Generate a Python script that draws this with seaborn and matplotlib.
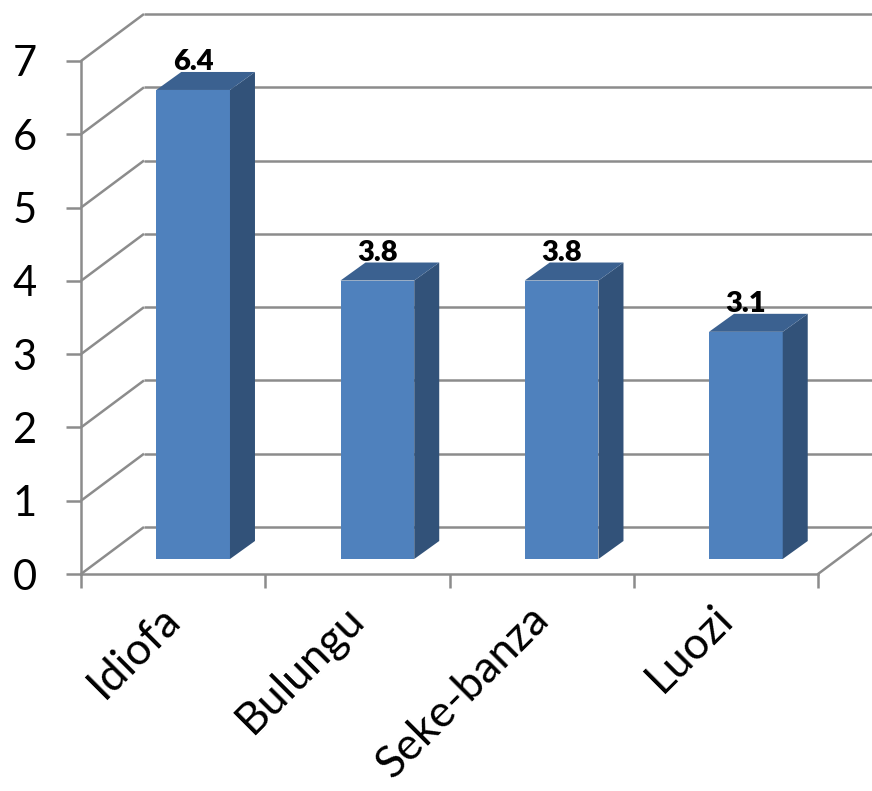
import matplotlib
matplotlib.use("Agg")
import matplotlib.pyplot as plt
import matplotlib.transforms as mtransforms
from matplotlib.patches import Polygon
import seaborn as sns
import pandas as pd

# ---- data ----
categories = ["Idiofa", "Bulungu", "Seke-banza", "Luozi"]
values = [6.4, 3.8, 3.8, 3.1]
value_labels = ["6.4", "3.8", "3.8", "3.1"]
y_ticks = [0, 1, 2, 3, 4, 5, 6, 7]

sns.set_theme(style="white")
plt.rcParams['font.family'] = ['Lato', 'DejaVu Sans']

W, H = 872, 791
fig = plt.figure(figsize=(W / 100, H / 100), dpi=100)
fig.patch.set_facecolor('white')

# pixel geometry of the front plane
ax_left, ax_right = 81, 818
ax_bot, ax_top = 574, 61
ax = fig.add_axes([ax_left / W, 1 - ax_bot / H, (ax_right - ax_left) / W, (ax_bot - ax_top) / H])
n = len(categories)
ax.set_xlim(-0.5, n - 0.5)
ax.set_ylim(0, max(y_ticks))
ax.patch.set_alpha(0)

px_x = n / (ax_right - ax_left)
px_y = max(y_ticks) / (ax_bot - ax_top)
back_dx, back_dy = 63 * px_x, 47 * px_y

grid_c = '#8C8C8C'
lw = 1.8
for v in y_ticks:
    ax.plot([-0.5, -0.5 + back_dx], [v, v + back_dy], color=grid_c, lw=lw, clip_on=False,
            solid_capstyle='butt')
    ax.plot([-0.5 + back_dx, n - 0.5 + back_dx], [v + back_dy, v + back_dy], color=grid_c, lw=lw,
            clip_on=False, solid_capstyle='butt')
ax.plot([n - 0.5, n - 0.5 + back_dx], [0, back_dy], color=grid_c, lw=lw, clip_on=False)

for s in ['top', 'right']:
    ax.spines[s].set_visible(False)
for s in ['left', 'bottom']:
    ax.spines[s].set_color(grid_c)
    ax.spines[s].set_linewidth(lw)

ax.set_yticks(y_ticks)
ax.set_yticklabels([str(t) for t in y_ticks])
ax.tick_params(axis='y', direction='out', length=15 * 0.72, width=lw, color=grid_c,
               labelsize=30, pad=21, labelcolor='black', left=True)
ax.set_xticks(range(n))
ax.set_xticklabels(categories, rotation=45, ha='right', va='top', rotation_mode='anchor')
ax.set_xticks([i - 0.5 for i in range(n + 1)], minor=True)
ax.tick_params(axis='x', which='major', length=0, labelsize=32, pad=17, labelcolor='black')
ax.tick_params(axis='x', which='minor', direction='out', length=10, width=lw, color=grid_c, bottom=True)
for lab in ax.get_xticklabels():
    lab.set_transform(lab.get_transform() + mtransforms.ScaledTranslation(-14 / 100, 0, fig.dpi_scale_trans))

# ---- bars (seaborn), drawn on an axes shifted into the depth ----
bar_off_x, bar_off_y = 20, 15
axb = fig.add_axes([(ax_left + bar_off_x) / W, 1 - (ax_bot - bar_off_y) / H,
                    (ax_right - ax_left) / W, (ax_bot - ax_top) / H])
df = pd.DataFrame({'Region': categories, 'Value': values})
front_c, side_c, top_c = '#4F81BD', '#325279', '#3B6190'
sns.barplot(data=df, x='Region', y='Value', color=front_c, saturation=1, width=0.4,
            ax=axb, linewidth=0)
axb.set_xlim(-0.5, n - 0.5)
axb.set_ylim(0, max(y_ticks))
axb.axis('off')
axb.patch.set_alpha(0)

depth_dx, depth_dy = 25 * px_x, 18 * px_y
bars = list(axb.patches)
lab_tr = mtransforms.offset_copy(axb.transData, fig=fig, x=0, y=20, units='dots')
for p, lab in zip(bars, value_labels):
    x0, y0, w, h = p.get_x(), p.get_y(), p.get_width(), p.get_height()
    side = Polygon([(x0 + w, y0), (x0 + w + depth_dx, y0 + depth_dy),
                    (x0 + w + depth_dx, y0 + h + depth_dy), (x0 + w, y0 + h)],
                   closed=True, fc=side_c, ec='none', clip_on=False)
    top = Polygon([(x0, y0 + h), (x0 + depth_dx, y0 + h + depth_dy),
                   (x0 + w + depth_dx, y0 + h + depth_dy), (x0 + w, y0 + h)],
                  closed=True, fc=top_c, ec='none', clip_on=False)
    axb.add_patch(side)
    axb.add_patch(top)
    axb.text(x0 + w / 2, y0 + h, lab, transform=lab_tr, ha='center', va='baseline',
             fontsize=21, fontweight='heavy', color='black', clip_on=False)

fig.savefig('out.png', dpi=100, facecolor='white')
